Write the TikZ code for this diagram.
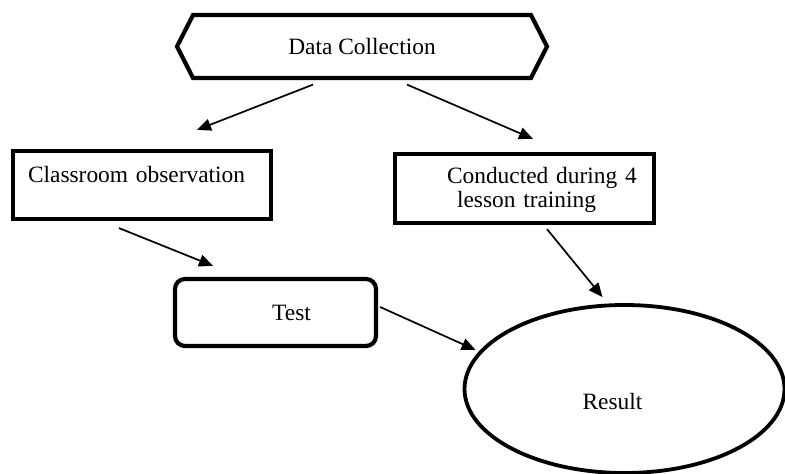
\documentclass[tikz,border=0pt]{standalone}
\usepackage{fontspec}
\setmainfont{Liberation Serif}
\usetikzlibrary{shapes.geometric,shapes.symbols,arrows.meta,calc}
\tikzset{
  frame/.style={draw, line width=2.1pt, inner ysep=0pt, align=left},
  flow/.style={line width=0.85pt, -{Triangle[length=7pt,width=6pt]}},
}

\begin{document}
\begin{tikzpicture}[x=0.5pt,y=-0.5pt,font=\fontsize{11.7}{10.5}\selectfont]
  \useasboundingbox (0,0) rectangle (785,474);
  \node[draw, line width=2.1pt, signal, signal to=west and east, signal pointer angle=126, minimum width=185pt, minimum height=31.5pt, inner sep=0pt] (dc) at (362,46.5) {Data Collection};
  \node[frame, inner xsep=7.5pt, text width=114pt, text height=16pt, text depth=18pt] (cls) at (142,185) {Classroom observation};
  \node[frame, inner xsep=0pt, text width=129.5pt, text height=15pt, text depth=19.5pt] (con) at (524.5,188.5) {\hspace*{26pt}Conducted during 4\\\hspace*{31pt}lesson training};
  \node[draw, line width=2.1pt, rounded corners=5pt, minimum width=100.5pt, minimum height=33.5pt, inner sep=0pt] (tst) at (275.5,312.5) {\hspace*{16pt}Test};
  \node[draw, ellipse, line width=1.9pt, minimum width=160pt, minimum height=84pt, inner sep=0pt, text height=21pt, text depth=0pt] (res) at (624.5,389) {Result\hspace*{12pt}};
  \draw[flow] ($(dc.south)+(-49,4.5)$) -- ($(cls.north)+(55,-19)$);
  \draw[flow] ($(dc.south)+(45,4.5)$) -- ($(con.north)+(8.5,-13)$);
  \draw[flow] ($(cls.south)+(-23,7)$) -- ($(tst.north)+(-62.5,-11)$);
  \draw[flow] ($(con.south)+(22.5,4)$) -- ($(res.north)+(-22,-6)$);
  \draw[flow] ($(tst.east)+(2,-5.5)$) -- ($(res.west)+(13,-39)$);
\end{tikzpicture}
\end{document}
